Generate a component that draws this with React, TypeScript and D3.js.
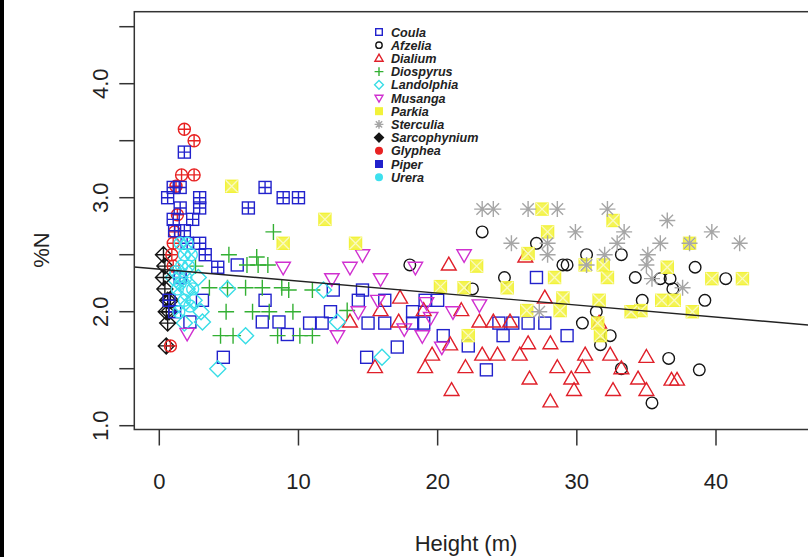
import React from "react";
import * as d3 from "d3";

const coulaX = [5.6, 3.1, 7.6, 4.6, 2.2, 7.4, 8.6, 9.2, 12.5, 14.6, 12.3, 10.8, 11.7, 14.3, 15.0, 16.2, 16.2, 18.2, 18.2, 19.0, 19.1, 20.0, 17.1, 14.9, 20.4, 22.2, 27.1, 24.4, 25.4, 26.5, 27.7, 24.7, 29.3, 23.5];
const coulaY = [2.41, 2.10, 2.10, 1.60, 1.91, 1.91, 1.91, 1.80, 2.19, 2.19, 2.00, 1.90, 1.90, 2.10, 1.90, 1.90, 2.10, 2.00, 1.90, 1.90, 2.10, 2.10, 1.69, 1.60, 1.79, 1.70, 2.30, 1.90, 1.90, 1.90, 1.90, 1.79, 1.79, 1.49];

const afzeliaX = [23.2, 27.1, 30.7, 33.2, 24.8, 29.0, 29.3, 34.2, 22.5, 34.7, 31.4, 30.4, 32.4, 31.7, 33.2, 35.4, 36.0, 36.7, 36.9, 38.5, 40.7, 39.2, 36.6, 38.8, 18.0];
const afzeliaY = [2.70, 2.60, 2.50, 2.50, 2.30, 2.41, 2.41, 2.30, 2.20, 2.10, 2.00, 1.90, 1.79, 1.71, 1.50, 1.20, 2.29, 2.29, 2.20, 2.39, 2.29, 2.10, 1.59, 1.49, 2.41];

const dialiumX = [20.8, 17.3, 15.9, 13.7, 17.2, 19.0, 21.7, 19.6, 15.5, 19.1, 22.0, 21.0, 20.9, 27.7, 31.6, 23.0, 24.0, 25.2, 26.5, 28.1, 23.2, 24.3, 25.9, 28.6, 30.6, 32.4, 30.4, 26.6, 29.6, 29.8, 32.6, 34.4, 35.0, 28.1, 35.0, 36.8, 37.2, 33.2, 26.3];
const dialiumY = [2.41, 2.12, 2.01, 1.91, 1.91, 2.01, 2.01, 1.62, 1.51, 1.51, 1.51, 1.31, 1.71, 2.12, 1.90, 1.91, 1.91, 1.91, 1.72, 1.72, 1.62, 1.62, 1.62, 1.51, 1.62, 1.62, 1.51, 1.41, 1.41, 1.31, 1.31, 1.41, 1.31, 1.21, 1.60, 1.40, 1.40, 1.50, 2.48];

const diospyrusX = [8.2, 7.0, 6.3, 7.1, 7.8, 3.6, 4.9, 6.2, 7.4, 8.8, 4.8, 6.7, 7.9, 4.4, 5.3, 8.5, 9.3, 11.0, 9.6, 10.1, 11.0, 13.5, 2.6, 5.0];
const diospyrusY = [2.70, 2.48, 2.41, 2.41, 2.41, 2.21, 2.21, 2.21, 2.21, 2.21, 2.00, 2.00, 2.00, 1.79, 1.79, 1.79, 2.19, 2.19, 2.00, 1.79, 1.79, 2.01, 2.40, 2.50];

const landolphiaX = [4.9, 3.1, 6.2, 4.2, 11.8, 12.8, 16.0, 1.5, 2.0, 1.0, 2.5, 1.8, 3.0, 2.8];
const landolphiaY = [2.20, 1.91, 1.79, 1.50, 2.19, 1.91, 1.60, 2.30, 2.20, 2.30, 2.10, 1.90, 2.00, 2.30];

const musangaX = [2.0, 8.9, 14.6, 13.7, 12.4, 15.9, 12.8, 18.4, 21.9, 15.7, 19.2, 21.1, 20.3, 18.9, 14.3, 23.0, 19.5, 17.6];
const musangaY = [1.81, 2.39, 2.50, 2.39, 2.29, 2.29, 1.79, 2.39, 2.50, 2.10, 2.08, 2.00, 1.69, 1.79, 2.00, 2.06, 1.95, 1.85];

const parkiaX = [5.2, 11.9, 8.9, 14.1, 20.2, 21.9, 22.8, 22.2, 27.5, 27.9, 32.6, 26.5, 28.4, 30.6, 31.9, 32.2, 25.0, 29.0, 31.6, 26.4, 28.8, 31.5, 31.7, 34.6, 33.9, 38.1, 36.5, 39.7, 41.9, 36.1, 37.0, 38.3];
const parkiaY = [3.10, 2.81, 2.60, 2.60, 2.22, 2.21, 2.40, 1.79, 2.90, 2.70, 2.80, 2.51, 2.30, 2.41, 2.41, 2.30, 2.21, 2.12, 2.10, 2.01, 2.01, 1.90, 1.79, 2.01, 2.00, 2.60, 2.39, 2.29, 2.29, 2.10, 2.10, 2.00];

const sterculiaX = [23.2, 24.0, 26.5, 28.6, 32.2, 29.9, 33.4, 25.3, 27.9, 27.9, 32.9, 32.0, 30.7, 35.1, 35.0, 27.3, 36.5, 39.7, 41.7, 36.0, 38.1, 35.4, 37.6];
const sterculiaY = [2.90, 2.90, 2.90, 2.90, 2.90, 2.70, 2.70, 2.60, 2.60, 2.50, 2.60, 2.50, 2.41, 2.50, 2.41, 2.00, 2.80, 2.70, 2.60, 2.60, 2.60, 2.29, 2.21];

const sarcoX = [0.3, 0.4, 0.3, 0.4, 0.6, 0.8, 0.5, 0.7, 0.6, 0.5];
const sarcoY = [2.5, 2.4, 2.3, 2.2, 2.1, 2.1, 2.0, 2.0, 1.9, 1.7];

const glypheaX = [1.8, 2.5, 1.6, 2.5, 1.2, 1.1, 1.0, 0.9, 1.0, 0.8, 1.3];
const glypheaY = [3.6, 3.5, 3.2, 3.2, 3.1, 2.7, 2.6, 2.5, 2.4, 1.7, 2.85];

const piperX = [1.8, 1.0, 1.5, 0.6, 2.9, 1.5, 2.9, 1.0, 2.4, 1.1, 1.8, 2.9, 3.3, 2.0, 7.6, 8.9, 10.0, 6.4, 4.2, 1.1, 1.5, 0.7];
const piperY = [3.40, 3.09, 3.09, 3.00, 3.00, 2.91, 2.91, 2.81, 2.81, 2.71, 2.71, 2.60, 2.50, 2.60, 3.09, 3.00, 3.00, 2.91, 2.39, 2.00, 2.30, 2.10];

const ureraX = [1.5, 2.0, 1.8, 2.3, 1.6, 2.1, 1.2, 1.9, 1.5, 2.4, 1.3, 1.8, 2.2, 1.4];
const ureraY = [2.6, 2.6, 2.5, 2.5, 2.4, 2.4, 2.35, 2.3, 2.25, 2.2, 2.2, 2.1, 2.05, 2.0];

const speciesNames = ["Coula", "Afzelia", "Dialium", "Diospyrus", "Landolphia", "Musanga", "Parkia", "Sterculia", "Sarcophynium", "Glyphea", "Piper", "Urera"];
const xTicks = [0, 10, 20, 30, 40];
const yTicks = [1, 1.5, 2, 2.5, 3, 3.5, 4, 4.5];
const yLabels = [1, 2, 3, 4];
const fitIntercept = 2.373;
const fitSlope = -0.0105;

type Shape = "square" | "circle" | "tri" | "plus" | "diamond" | "tridown" | "sqx" | "star" | "diaplus" | "circplus" | "sqplus" | "circx";

const series: { name: string; xs: number[]; ys: number[]; shape: Shape; color: string }[] = [
  { name: "Coula", xs: coulaX, ys: coulaY, shape: "square", color: "#2222cc" },
  { name: "Afzelia", xs: afzeliaX, ys: afzeliaY, shape: "circle", color: "#151515" },
  { name: "Dialium", xs: dialiumX, ys: dialiumY, shape: "tri", color: "#e0202a" },
  { name: "Diospyrus", xs: diospyrusX, ys: diospyrusY, shape: "plus", color: "#33b033" },
  { name: "Landolphia", xs: landolphiaX, ys: landolphiaY, shape: "diamond", color: "#38dde6" },
  { name: "Musanga", xs: musangaX, ys: musangaY, shape: "tridown", color: "#d030d0" },
  { name: "Parkia", xs: parkiaX, ys: parkiaY, shape: "sqx", color: "#f2f23a" },
  { name: "Sterculia", xs: sterculiaX, ys: sterculiaY, shape: "star", color: "#a6a6a6" },
  { name: "Sarcophynium", xs: sarcoX, ys: sarcoY, shape: "diaplus", color: "#151515" },
  { name: "Glyphea", xs: glypheaX, ys: glypheaY, shape: "circplus", color: "#e82222" },
  { name: "Piper", xs: piperX, ys: piperY, shape: "sqplus", color: "#2222cc" },
  { name: "Urera", xs: ureraX, ys: ureraY, shape: "circx", color: "#3ee0ee" },
];

function Marker({ shape, color, cx, cy, s = 1, legend = false }: { shape: Shape; color: string; cx: number; cy: number; s?: number; legend?: boolean }) {
  const sw = 1.4;
  const h = 6 * s;
  const common = { fill: "none", stroke: color, strokeWidth: sw };
  switch (shape) {
    case "square":
      return <rect x={cx - h} y={cy - h} width={2 * h} height={2 * h} {...common} />;
    case "circle":
      return <circle cx={cx} cy={cy} r={5.8 * s} {...common} />;
    case "tri": {
      const a = 7.8 * s;
      return <path d={`M${cx},${cy - a} L${cx + a * 0.95},${cy + a * 0.65} L${cx - a * 0.95},${cy + a * 0.65} Z`} {...common} />;
    }
    case "tridown": {
      const a = 7.6 * s;
      return <path d={`M${cx},${cy + a} L${cx + a * 0.95},${cy - a * 0.65} L${cx - a * 0.95},${cy - a * 0.65} Z`} {...common} />;
    }
    case "plus": {
      const a = 8 * s;
      return <path d={`M${cx - a},${cy} H${cx + a} M${cx},${cy - a} V${cy + a}`} {...common} />;
    }
    case "diamond": {
      const a = 8 * s;
      return <path d={`M${cx},${cy - a} L${cx + a},${cy} L${cx},${cy + a} L${cx - a},${cy} Z`} {...common} />;
    }
    case "sqx":
      return (
        <g>
          <rect x={cx - h} y={cy - h} width={2 * h} height={2 * h} fill={color} fillOpacity={legend ? 1 : 0.85} stroke={color} strokeWidth={sw} />
          {!legend && <path d={`M${cx - h},${cy - h} L${cx + h},${cy + h} M${cx - h},${cy + h} L${cx + h},${cy - h}`} stroke="#fafac0" strokeWidth={1.3} />}
        </g>
      );
    case "star": {
      const a = 8 * s;
      const b = a * 0.72;
      return <path d={`M${cx - a},${cy} H${cx + a} M${cx},${cy - a} V${cy + a} M${cx - b},${cy - b} L${cx + b},${cy + b} M${cx - b},${cy + b} L${cx + b},${cy - b}`} {...common} />;
    }
    case "diaplus": {
      const a = 8 * s;
      return <path d={`M${cx},${cy - a} L${cx + a},${cy} L${cx},${cy + a} L${cx - a},${cy} Z M${cx - a},${cy} H${cx + a} M${cx},${cy - a} V${cy + a}`} fill={legend ? color : "none"} stroke={color} strokeWidth={sw} />;
    }
    case "circplus": {
      const r = 6 * s;
      return (
        <g>
          <circle cx={cx} cy={cy} r={r} fill={legend ? color : "none"} stroke={color} strokeWidth={sw} />
          <path d={`M${cx - r},${cy} H${cx + r} M${cx},${cy - r} V${cy + r}`} stroke={color} strokeWidth={sw} />
        </g>
      );
    }
    case "sqplus":
      return (
        <g>
          <rect x={cx - h} y={cy - h} width={2 * h} height={2 * h} fill={legend ? color : "none"} stroke={color} strokeWidth={sw} />
          <path d={`M${cx - h},${cy} H${cx + h} M${cx},${cy - h} V${cy + h}`} stroke={color} strokeWidth={sw} />
        </g>
      );
    case "circx": {
      const r = 6 * s;
      const b = r * 0.707;
      return (
        <g>
          <circle cx={cx} cy={cy} r={r} fill={legend ? color : "none"} stroke={color} strokeWidth={sw} />
          <path d={`M${cx - b},${cy - b} L${cx + b},${cy + b} M${cx - b},${cy + b} L${cx + b},${cy - b}`} stroke={color} strokeWidth={sw} />
        </g>
      );
    }
  }
  return null;
}

export default function App() {
  const W = 808;
  const H = 557;
  const frame = { left: 134.3, top: 11.7, bottom: 429.5, right: 812 };
  const x = d3.scaleLinear().domain([0, 40]).range([159.3, 716]);
  const y = d3.scaleLinear().domain([1, 4.5]).range([425.7, 26.7]);
  const xMin = x.invert(frame.left);
  const xMax = x.invert(frame.right);
  const fitLine = d3.line<number>().x((d) => x(d)).y((d) => y(fitIntercept + fitSlope * d));
  const font = "'Liberation Sans', Arial, Helvetica, sans-serif";
  const axisColor = "#333";

  return (
    <svg width={W} height={H} style={{ position: "fixed", left: 0, top: 0, background: "#fff" }} fontFamily={font}>
      <rect x={0} y={0} width={W} height={H} fill="#fff" />
      <rect x={0} y={0} width={4} height={H} fill="#000" />
      <defs>
        <clipPath id="plotclip">
          <rect x={frame.left} y={frame.top} width={frame.right - frame.left} height={frame.bottom - frame.top} />
        </clipPath>
      </defs>
      <g clipPath="url(#plotclip)">
        {series.map((sr) =>
          sr.xs.map((v, i) => <Marker key={sr.name + i} shape={sr.shape} color={sr.color} cx={x(v)} cy={y(sr.ys[i])} />)
        )}
        <path d={fitLine([xMin, xMax]) || ""} stroke="#222" strokeWidth={1.4} fill="none" />
      </g>
      <rect x={frame.left} y={frame.top} width={frame.right - frame.left} height={frame.bottom - frame.top} fill="none" stroke={axisColor} strokeWidth={1.5} />
      {yTicks.map((t) => (
        <line key={"yt" + t} x1={frame.left - 15} x2={frame.left} y1={y(t)} y2={y(t)} stroke={axisColor} strokeWidth={1.5} />
      ))}
      {yLabels.map((t) => (
        <text key={"yl" + t} transform={`translate(108,${y(t)}) rotate(-90)`} textAnchor="middle" fontSize={22} fill="#222">
          {t.toFixed(1)}
        </text>
      ))}
      {xTicks.map((t) => (
        <g key={"xt" + t}>
          <line x1={x(t)} x2={x(t)} y1={frame.bottom} y2={frame.bottom + 16} stroke={axisColor} strokeWidth={1.5} />
          <text x={x(t)} y={489} textAnchor="middle" fontSize={22} fill="#222">
            {t}
          </text>
        </g>
      ))}
      <text x={466} y={551} textAnchor="middle" fontSize={22} fill="#222">
        Height (m)
      </text>
      <text transform={`translate(49,250) rotate(-90)`} textAnchor="middle" fontSize={22} fill="#222">
        %N
      </text>
      <g>
        {series.map((sr, i) => (
          <g key={"lg" + sr.name}>
            <Marker shape={sr.shape} color={sr.color} cx={379} cy={32 + i * 13.2} s={0.55} legend />
            <text x={391} y={36.5 + i * 13.2} fontSize={12.6} fontWeight="bold" fontStyle="italic" fill="#222">
              {speciesNames[i]}
            </text>
          </g>
        ))}
      </g>
    </svg>
  );
}
